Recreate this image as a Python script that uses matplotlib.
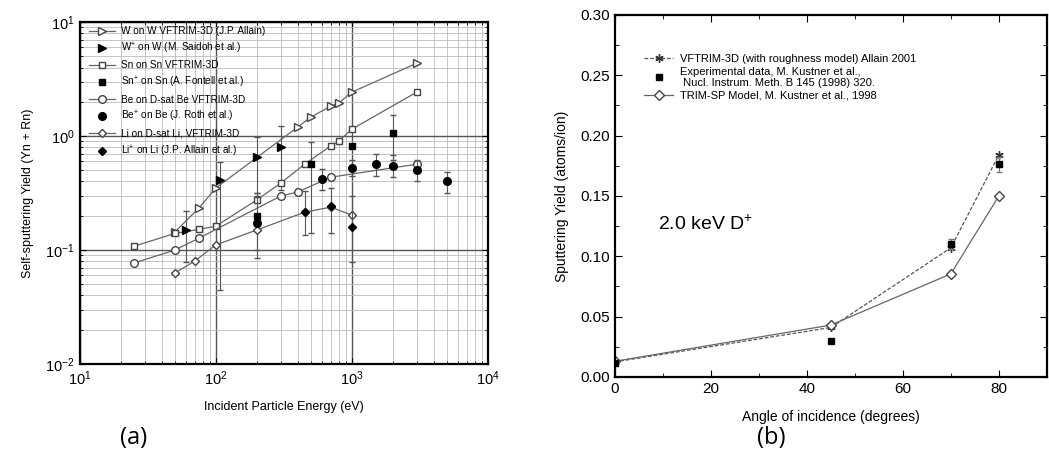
import numpy as np
import matplotlib
matplotlib.use("Agg")
import matplotlib.pyplot as plt
from matplotlib.ticker import LogLocator, MultipleLocator, FormatStrFormatter, NullFormatter

plt.rcParams['font.family'] = ['Liberation Sans', 'DejaVu Sans']
plt.rcParams['mathtext.fontset'] = 'custom'
plt.rcParams['mathtext.rm'] = 'Liberation Sans'
plt.rcParams['mathtext.it'] = 'Liberation Sans:italic'

# ---- panel (a): self-sputtering yield vs energy ----
w_e = [50, 75, 100, 400, 500, 700, 800, 1000, 3000]
w_y = [0.144, 0.233, 0.35, 1.2, 1.47, 1.83, 1.95, 2.43, 4.36]

wp_e = [60, 107, 200, 300]
wp_y = [0.15, 0.41, 0.655, 0.80]
wp_lo = [0.078, 0.045, 0.32, 0.34]
wp_hi = [0.22, 0.59, 0.98, 1.22]

sn_e = [25, 50, 75, 100, 200, 300, 450, 700, 800, 1000, 3000]
sn_y = [0.108, 0.14, 0.152, 0.162, 0.275, 0.387, 0.567, 0.82, 0.90, 1.15, 2.43]

snp_e = [200, 500, 1000, 2000]
snp_y = [0.20, 0.57, 0.82, 1.06]
snp_lo = [0.10, 0.14, 0.82, 0.62]
snp_hi = [0.30, 0.88, 0.82, 1.53]

be_e = [25, 50, 75, 300, 400, 700, 3000]
be_y = [0.077, 0.10, 0.127, 0.298, 0.323, 0.436, 0.567]

bep_e = [200, 600, 1000, 1500, 2000, 3000, 5000]
bep_y = [0.172, 0.42, 0.53, 0.567, 0.55, 0.50, 0.40]
bep_lo = [0.085, 0.34, 0.45, 0.45, 0.44, 0.40, 0.32]
bep_hi = [0.32, 0.52, 0.62, 0.70, 0.68, 0.62, 0.48]

li_e = [50, 70, 100, 200, 450, 700, 1000]
li_y = [0.063, 0.080, 0.111, 0.15, 0.215, 0.238, 0.203]

lip_e = [450, 700, 1000]
lip_y = [0.215, 0.245, 0.158]
lip_lo = [0.135, 0.14, 0.079]
lip_hi = [0.33, 0.35, 0.30]

# ---- panel (b): sputtering yield vs angle ----
ang = [0, 45, 70, 80]
vf_y = [0.0125, 0.041, 0.107, 0.184]
exp_ang = [0, 45, 70, 80]
exp_y = [0.012, 0.030, 0.110, 0.176]
exp_err = [0.0, 0.0, 0.004, 0.006]
trim_y = [0.013, 0.043, 0.0854, 0.150]

fig = plt.figure(figsize=(10.49, 4.62), dpi=100)
ax = fig.add_axes([0.076, 0.212, 0.389, 0.740])
bx = fig.add_axes([0.586, 0.184, 0.412, 0.784])

lc = '#666666'
ms = 5.5


def err(y, lo, hi):
    return [np.array(y) - np.array(lo), np.array(hi) - np.array(y)]


h_w, = ax.plot(w_e, w_y, '-', color=lc, lw=0.9, marker='>', mfc='white', mec='#444444',
               ms=ms, label='W on W VFTRIM-3D (J.P. Allain)')
h_wp = ax.errorbar(wp_e, wp_y, yerr=err(wp_y, wp_lo, wp_hi), fmt='>', color='black', ms=ms,
                   ecolor='#555555', elinewidth=0.8, capsize=2.5)
h_sn, = ax.plot(sn_e, sn_y, '-', color=lc, lw=0.9, marker='s', mfc='white', mec='#444444',
                ms=ms - 0.5)
h_snp = ax.errorbar(snp_e, snp_y, yerr=err(snp_y, snp_lo, snp_hi), fmt='s', color='black',
                    ms=ms - 0.5, ecolor='#555555', elinewidth=0.8, capsize=2.5)
h_be, = ax.plot(be_e, be_y, '-', color=lc, lw=0.9, marker='o', mfc='white', mec='#444444', ms=ms)
h_bep = ax.errorbar(bep_e, bep_y, yerr=err(bep_y, bep_lo, bep_hi), fmt='o', color='black', ms=ms,
                    ecolor='#555555', elinewidth=0.8, capsize=2.5)
h_li, = ax.plot(li_e, li_y, '-', color=lc, lw=0.9, marker='D', mfc='white', mec='#444444',
                ms=ms - 1)
h_lip = ax.errorbar(lip_e, lip_y, yerr=err(lip_y, lip_lo, lip_hi), fmt='D', color='black',
                    ms=ms - 1, ecolor='#555555', elinewidth=0.8, capsize=2.5)

ax.set_xscale('log')
ax.set_yscale('log')
ax.set_xlim(10, 1e4)
ax.set_ylim(1e-2, 10)
ax.xaxis.set_minor_locator(LogLocator(base=10, subs=np.arange(2, 10)))
ax.yaxis.set_minor_locator(LogLocator(base=10, subs=np.arange(2, 10)))
ax.xaxis.set_minor_formatter(NullFormatter())
ax.yaxis.set_minor_formatter(NullFormatter())
ax.grid(True, which='major', color='#555555', lw=1.0)
ax.grid(True, which='minor', color='#bbbbbb', lw=0.6)
ax.set_axisbelow(True)
ax.tick_params(which='both', direction='in', top=True, right=True, labelsize=10.5)
ax.tick_params(which='major', length=4)
ax.tick_params(which='minor', length=2.5)
for s in ax.spines.values():
    s.set_linewidth(1.6)
ax.set_xlabel('Incident Particle Energy (eV)', fontsize=9, labelpad=10)
ax.set_ylabel('Self-sputtering Yield (Yn + Rn)', fontsize=9, labelpad=8)
ax.legend([h_w, h_wp[0], h_sn, h_snp[0], h_be, h_bep[0], h_li, h_lip[0]],
          ['W on W VFTRIM-3D (J.P. Allain)', 'W$^{+}$ on W (M. Saidoh et al.)',
           'Sn on Sn VFTRIM-3D', 'Sn$^{+}$ on Sn (A. Fontell et al.)',
           'Be on D-sat Be VFTRIM-3D', 'Be$^{+}$ on Be (J. Roth et al.)',
           'Li on D-sat Li, VFTRIM-3D', 'Li$^{+}$ on Li (J.P. Allain et al.)'],
          loc='upper left', bbox_to_anchor=(0.0, 1.015), frameon=False, fontsize=7.2,
          handlelength=2.6, labelspacing=0.45, handletextpad=0.6, numpoints=1)

h_vf, = bx.plot(ang, vf_y, '--', color='#555555', lw=0.9, marker=(6, 2, 0), ms=6, mec='#333333',
                dashes=(3, 1.5))
h_exp = bx.errorbar(exp_ang, exp_y, yerr=exp_err, fmt='s', color='black', ms=5, ecolor='#777777',
                    elinewidth=0.8, capsize=2.5)
h_trim, = bx.plot(ang, trim_y, '-', color='#666666', lw=0.9, marker='D', mfc='white',
                  mec='#444444', ms=5)
bx.set_xlim(0, 90)
bx.set_ylim(0, 0.30)
bx.xaxis.set_major_locator(MultipleLocator(20))
bx.xaxis.set_minor_locator(MultipleLocator(10))
bx.yaxis.set_major_locator(MultipleLocator(0.05))
bx.yaxis.set_minor_locator(MultipleLocator(0.025))
bx.yaxis.set_major_formatter(FormatStrFormatter('%.2f'))
bx.tick_params(which='both', direction='in', top=True, right=True, labelsize=11)
bx.tick_params(which='major', length=5)
bx.tick_params(which='minor', length=3)
for s in bx.spines.values():
    s.set_linewidth(1.6)
bx.set_xlabel('Angle of incidence (degrees)', fontsize=10, labelpad=10)
bx.set_ylabel('Sputtering Yield (atoms/ion)', fontsize=10, labelpad=8)
bx.text(9, 0.122, '2.0 keV D$^{+}$', fontsize=14)
bx.legend([h_vf, h_exp[0], h_trim],
          ['VFTRIM-3D (with roughness model) Allain 2001',
           'Experimental data, M. Kustner et al.,\n Nucl. Instrum. Meth. B 145 (1998) 320.',
           'TRIM-SP Model, M. Kustner et al., 1998'],
          loc='upper left', bbox_to_anchor=(0.045, 0.92), frameon=False, fontsize=8,
          handlelength=2.6, labelspacing=0.25, handletextpad=0.6, numpoints=1)

fig.text(0.127, 0.04, '(a)', fontsize=17, family=['Open Sans', 'DejaVu Sans'], ha='center')
fig.text(0.735, 0.04, '(b)', fontsize=17, family=['Open Sans', 'DejaVu Sans'], ha='center')

fig.savefig('out.png', dpi=100)
